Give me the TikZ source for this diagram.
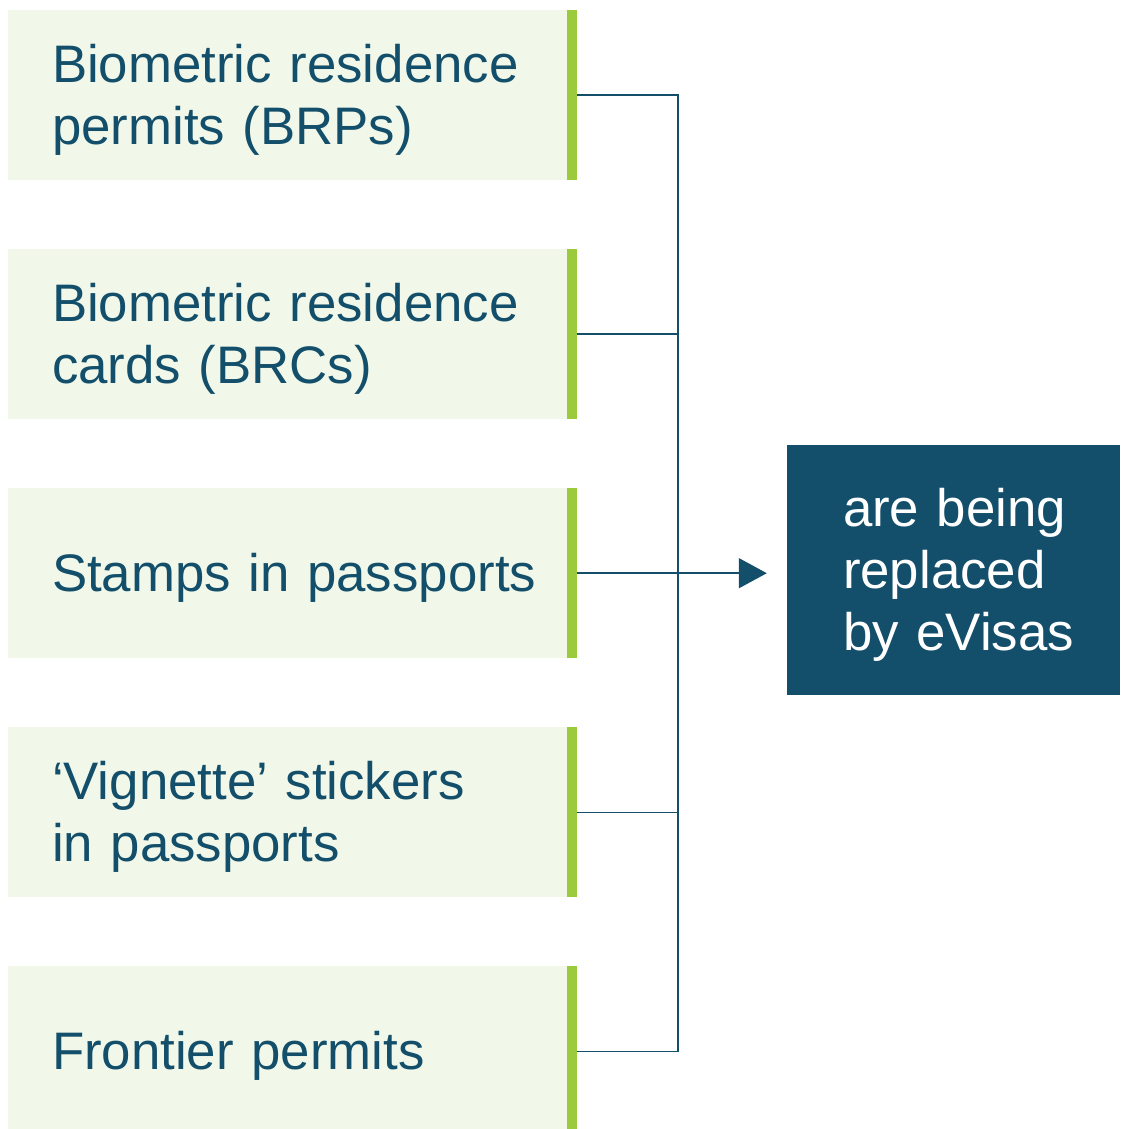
\documentclass[tikz,border=0pt]{standalone}
\usepackage{fontspec}
\setmainfont{Liberation Sans}
\usetikzlibrary{arrows.meta}
\definecolor{navy}{HTML}{134F6A}
\definecolor{leaf}{HTML}{9BCA3C}
\definecolor{mint}{HTML}{F1F8E9}

\begin{document}
\begin{tikzpicture}[x=1pt, y=-1pt,
  item/.style={fill=mint, inner sep=0pt, minimum width=569pt, minimum height=170pt,
    text width=481pt, align=left, text=navy, text height=47pt,
    font=\fontsize{52.8}{62}\selectfont,
    path picture={\fill[leaf] ([xshift=-10pt]path picture bounding box.north east)
      rectangle (path picture bounding box.south east);}},
  link/.style={draw=navy, line width=1.5pt}]

  \newcommand\Xc{292.5}
  \newcommand\Dy{239.1}

  \useasboundingbox (0,0) rectangle (1120,1129);

  %% left column
  \node[item] (brp) at (\Xc, 95+0*\Dy) {Biometric residence\\permits (BRPs)};
  \node[item] (brc) at (\Xc, 95+1*\Dy) {Biometric residence\\cards (BRCs)};
  \node[item] (stamp) at (\Xc, 95+2*\Dy) {\mbox{Stamps in passports}};
  \node[item] (vign) at (\Xc, 95+3*\Dy) {`Vignette' stickers\\in passports};
  \node[item] (front) at (\Xc, 95+4*\Dy) {Frontier permits};

  %% right box
  \node[fill=navy, text=white, inner sep=0pt, minimum width=333pt, minimum height=250pt,
    text width=221pt, align=left, text height=47pt, font=\fontsize{52.8}{62}\selectfont]
    (evisa) at (953.5, 570) {\mbox{are being}\\\mbox{replaced}\\\mbox{by eVisas}};

  \coordinate (trunk) at (678, 0);

  \draw[link] (brp.east) -- (brp.east -| trunk) -- (front.east -| trunk) -- (front.east);
  \draw[link] (brc.east) -- (brc.east -| trunk);
  \draw[link] (vign.east) -- (vign.east -| trunk);
  \draw[link, -{Triangle[length=28pt, width=30pt]}, shorten >=20pt]
    (stamp.east) -- (stamp.east -| evisa.west); %% into eVisas
\end{tikzpicture}
\end{document}
